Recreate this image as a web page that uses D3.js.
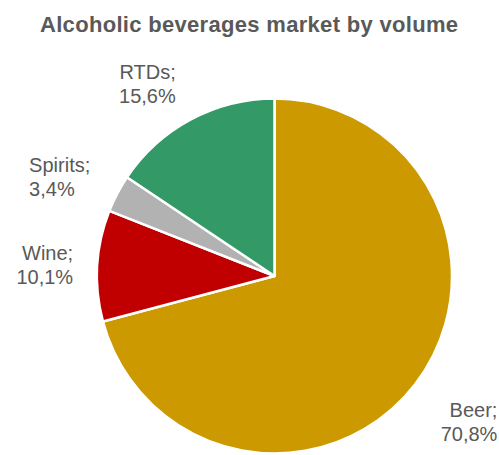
<!DOCTYPE html>
<html>
<head>
<meta charset="utf-8">
<script src="https://cdn.jsdelivr.net/npm/d3@7"></script>
<style>
  html, body { margin: 0; padding: 0; background: #fff; }
  svg { display: block; font-family: "Liberation Sans", Arial, sans-serif; }
</style>
</head>
<body>
<svg id="chart" width="499" height="455"></svg>
<script>
// Share of alcoholic beverages market by volume (%)
const categories = ["Beer", "Wine", "Spirits", "RTDs"];
const shares = [70.8, 10.1, 3.4, 15.6];
const shareLabels = ["70,8%", "10,1%", "3,4%", "15,6%"];
const colors = ["#CC9900", "#C00000", "#B2B2B2", "#339966"];

const width = 499, height = 455;
const cx = 274.5, cy = 276, radius = 177.5;

// Label placement: offset from the label-arc centroid and text alignment per slice
const labelLayout = {
  Beer:    { dx: 40, dy: 0,  anchor: "end" },
  Wine:    { dx: 29, dy: -3, anchor: "end" },
  Spirits: { dx: -41, dy: 3, anchor: "start" },
  RTDs:    { dx: 10, dy: 7,  anchor: "end" }
};

const svg = d3.select("#chart");

svg.append("text")
  .attr("x", 40)
  .attr("y", 32)
  .attr("textLength", 418)
  .attr("lengthAdjust", "spacing")
  .attr("font-size", 22)
  .attr("font-weight", "bold")
  .attr("fill", "#595959")
  .text("Alcoholic beverages market by volume");

const data = categories.map((c, i) => ({ name: c, value: shares[i], label: shareLabels[i], color: colors[i] }));

const pie = d3.pie().sort(null).value(d => d.value);
const arcs = pie(data);

const arc = d3.arc().innerRadius(0).outerRadius(radius);
const labelR = radius * 1.3;
const labelArc = d3.arc().innerRadius(labelR).outerRadius(labelR);

const g = svg.append("g").attr("transform", `translate(${cx},${cy})`);

g.selectAll("path.slice")
  .data(arcs)
  .join("path")
  .attr("class", "slice")
  .attr("d", arc)
  .attr("fill", d => d.data.color)
  .attr("stroke", "#fff")
  .attr("stroke-width", 2.5)
  .attr("stroke-linejoin", "round");

const labels = g.selectAll("text.lbl")
  .data(arcs)
  .join("text")
  .attr("class", "lbl")
  .attr("transform", d => {
    const [x, y] = labelArc.centroid(d);
    const l = labelLayout[d.data.name];
    return `translate(${x + l.dx},${y + l.dy})`;
  })
  .attr("text-anchor", d => labelLayout[d.data.name].anchor)
  .attr("font-size", 20)
  .attr("fill", "#595959");

labels.append("tspan")
  .attr("x", 0)
  .attr("y", 0)
  .text(d => d.data.name + ";");
labels.append("tspan")
  .attr("x", 0)
  .attr("y", 24)
  .text(d => d.data.label);
</script>
</body>
</html>
